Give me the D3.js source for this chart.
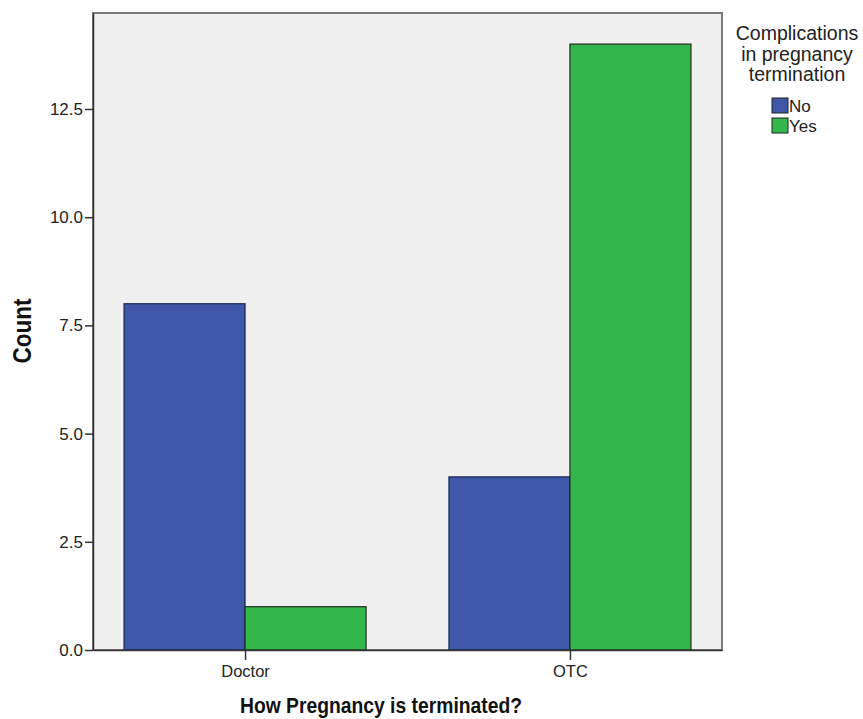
<!DOCTYPE html>
<html>
<head>
<meta charset="utf-8">
<script src="https://cdn.jsdelivr.net/npm/d3@7/dist/d3.min.js"></script>
<style>
  html, body { margin: 0; padding: 0; background: #ffffff; }
  svg { display: block; }
</style>
</head>
<body>
<svg id="chart" width="863" height="719"></svg>
<script>
// ---- data ----
const categories = ["Doctor", "OTC"];
const seriesNames = ["No", "Yes"];
const noValues = [8, 4];
const yesValues = [1, 14];
const yTickValues = [0, 2.5, 5, 7.5, 10, 12.5];
const legendTitleLines = ["Complications", "in pregnancy", "termination"];
const xTitle = "How Pregnancy is terminated?";
const yTitle = "Count";
const colors = { No: "#3f57a9", Yes: "#33b74a" };

const rows = [];
categories.forEach((c, i) => {
  rows.push({ cat: c, series: "No", value: noValues[i] });
  rows.push({ cat: c, series: "Yes", value: yesValues[i] });
});

// ---- layout ----
const pLeft = 93, pRight = 722, pTop = 13, pBottom = 650;
const svg = d3.select("#chart");

const y = d3.scaleLinear().domain([0, 14.718]).range([pBottom, pTop]);
const x = d3.scalePoint().domain(categories).range([pLeft, pRight]).padding(0.468);
const xs = d3.scaleBand().domain(seriesNames).range([-121, 121]).padding(0);

// plot background
svg.append("rect")
  .attr("x", pLeft).attr("y", pTop)
  .attr("width", pRight - pLeft).attr("height", pBottom - pTop)
  .attr("fill", "#f0f0f0")
  .attr("stroke", "#7a7a7a").attr("stroke-width", 2);

// bars
svg.append("g").selectAll("rect")
  .data(rows)
  .join("rect")
  .attr("x", d => x(d.cat) + xs(d.series))
  .attr("width", xs.bandwidth())
  .attr("y", d => y(d.value))
  .attr("height", d => y(0) - y(d.value))
  .attr("fill", d => colors[d.series])
  .attr("stroke", d => d.series === "No" ? "#1c2550" : "#1e2a1e")
  .attr("stroke-width", 1.2);

// y axis
const yAxis = d3.axisLeft(y).tickValues(yTickValues).tickFormat(d3.format(".1f"))
  .tickSize(8).tickSizeOuter(0).tickPadding(2);
const gy = svg.append("g").attr("transform", `translate(${pLeft},0)`).call(yAxis);
gy.select(".domain").attr("stroke", "#333").attr("stroke-width", 1.5);
gy.selectAll(".tick line").attr("stroke", "#333").attr("stroke-width", 1.5);
gy.selectAll(".tick text")
  .attr("fill", "#222")
  .style("font-family", "'Liberation Sans', Arial, sans-serif")
  .style("font-size", "17px");

// x axis
const xAxis = d3.axisBottom(x).tickSize(10).tickSizeOuter(0).tickPadding(5);
const gx = svg.append("g").attr("transform", `translate(0,${pBottom})`).call(xAxis);
gx.select(".domain").attr("stroke", "#333").attr("stroke-width", 1.5);
gx.selectAll(".tick line").attr("stroke", "#333").attr("stroke-width", 1.5);
gx.selectAll(".tick text")
  .attr("fill", "#222")
  .style("font-family", "'Liberation Sans', Arial, sans-serif")
  .style("font-size", "16.5px");

// axis titles
svg.append("text")
  .attr("x", 381).attr("y", 713)
  .attr("text-anchor", "middle")
  .attr("textLength", 282)
  .attr("lengthAdjust", "spacingAndGlyphs")
  .attr("fill", "#111")
  .style("font-family", "'Liberation Sans', Arial, sans-serif")
  .style("font-weight", "bold")
  .style("font-size", "22px")
  .text(xTitle);

svg.append("text")
  .attr("transform", "translate(31,331) rotate(-90)")
  .attr("text-anchor", "middle")
  .attr("textLength", 65)
  .attr("lengthAdjust", "spacingAndGlyphs")
  .attr("fill", "#111")
  .style("font-family", "'Liberation Sans', Arial, sans-serif")
  .style("font-weight", "bold")
  .style("font-size", "25px")
  .text(yTitle);

// legend
const lg = svg.append("g");
lg.selectAll("text.lt")
  .data(legendTitleLines)
  .join("text")
  .attr("class", "lt")
  .attr("x", 797)
  .attr("y", (d, i) => 40 + i * 20.5)
  .attr("text-anchor", "middle")
  .attr("fill", "#222")
  .style("font-family", "'Liberation Sans', Arial, sans-serif")
  .style("font-size", "19.5px")
  .text(d => d);

const items = lg.selectAll("g.item")
  .data(seriesNames)
  .join("g")
  .attr("class", "item")
  .attr("transform", (d, i) => `translate(772,${98 + i * 20})`);
items.append("rect")
  .attr("width", 16).attr("height", 15)
  .attr("fill", d => colors[d])
  .attr("stroke", "#222").attr("stroke-width", 1);
items.append("text")
  .attr("x", 17).attr("y", 14)
  .attr("fill", "#222")
  .style("font-family", "'Liberation Sans', Arial, sans-serif")
  .style("font-size", "17px")
  .text(d => d);
</script>
</body>
</html>
